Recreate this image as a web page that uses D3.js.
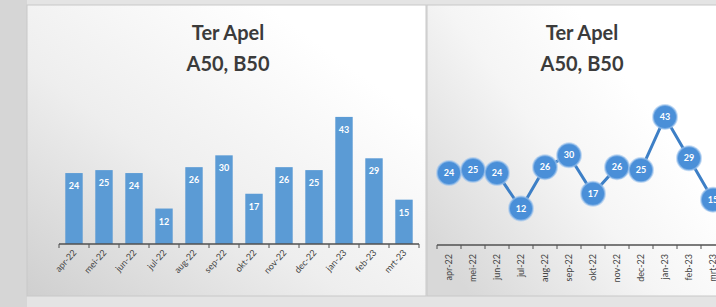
<!DOCTYPE html>
<html lang="nl">
<head>
    <meta charset="UTF-8">
    <title>Ter Apel A50, B50</title>
    <script src="https://d3js.org/d3.v7.min.js"></script>
    <style>
        body { margin: 0; background: #e3e3e3; }
        svg { display: block; font-family: Lato, "Open Sans", sans-serif; }
    </style>
    <script>
        const months = ["apr-22", "mei-22", "jun-22", "jul-22", "aug-22", "sep-22",
                        "okt-22", "nov-22", "dec-22", "jan-23", "feb-23", "mrt-23"];
        const barValues = [24, 25, 24, 12, 26, 30, 17, 26, 25, 43, 29, 15];
        const lineValues = [24, 25, 24, 12, 26, 30, 17, 26, 25, 43, 29, 15];
        const titleLines = ["Ter Apel", "A50, B50"];

        document.addEventListener("DOMContentLoaded", () => makeGraph());

        function makeGraph() {
            const width = 716, height = 307;
            const baseline = 244;

            let svg = d3.select("svg").attr("width", width).attr("height", height);

            let defs = svg.append("defs");
            let g1 = defs.append("linearGradient").attr("id", "bgLeft")
                .attr("x1", "0").attr("y1", "1").attr("x2", "0.8").attr("y2", "0.2");
            g1.append("stop").attr("offset", "0").attr("stop-color", "#cfcfcf");
            g1.append("stop").attr("offset", "0.5").attr("stop-color", "#eeeeee");
            g1.append("stop").attr("offset", "1").attr("stop-color", "#ffffff");

            let g2 = defs.append("linearGradient").attr("id", "bgRight")
                .attr("x1", "0").attr("y1", "0.8").attr("x2", "0.7").attr("y2", "0.3");
            g2.append("stop").attr("offset", "0").attr("stop-color", "#d8d8d8");
            g2.append("stop").attr("offset", "0.6").attr("stop-color", "#f5f5f5");
            g2.append("stop").attr("offset", "1").attr("stop-color", "#ffffff");

            // outer background
            svg.append("rect").attr("width", width).attr("height", height).attr("fill", "#e4e4e4");
            svg.append("rect").attr("x", 0).attr("y", 0).attr("width", 27).attr("height", height).attr("fill", "#d6d6d6");

            // panels
            svg.append("rect").attr("x", 27).attr("y", 5).attr("width", 399).attr("height", 291)
                .attr("fill", "url(#bgLeft)").attr("stroke", "#c8c8c8").attr("stroke-width", 1);
            svg.append("rect").attr("x", 427).attr("y", 5).attr("width", 300).attr("height", 291)
                .attr("fill", "url(#bgRight)").attr("stroke", "#c8c8c8").attr("stroke-width", 1);

            // titles
            [228, 582].forEach(cx => {
                svg.append("g").selectAll("text")
                    .data(titleLines)
                    .enter()
                    .append("text")
                    .attr("x", cx)
                    .attr("y", (d, i) => 40 + i * 31)
                    .attr("text-anchor", "middle")
                    .attr("font-size", "20px")
                    .attr("font-weight", "bold")
                    .attr("fill", "#3b3b3b")
                    .text(d => d);
            });

            const yScale = d3.scaleLinear().domain([0, 45]).range([baseline, 111]);

            // ---- left: bar chart ----
            let xBar = d3.scaleBand().domain(months).range([59, 419]).paddingInner(0.42).paddingOuter(0.21);
            let gapBar = xBar.step() - xBar.bandwidth();

            let left = svg.append("g");

            left.selectAll(".bar")
                .data(barValues)
                .enter()
                .append("rect")
                .attr("x", (d, i) => xBar(months[i]))
                .attr("y", d => yScale(d))
                .attr("width", xBar.bandwidth())
                .attr("height", d => baseline - yScale(d))
                .attr("fill", "#5b9bd5");

            left.selectAll(".barlabel")
                .data(barValues)
                .enter()
                .append("text")
                .attr("x", (d, i) => xBar(months[i]) + xBar.bandwidth() / 2)
                .attr("y", d => yScale(d) + 16)
                .attr("text-anchor", "middle")
                .attr("font-size", "9px")
                .attr("font-weight", "bold")
                .attr("fill", "#ffffff")
                .text(d => d);

            left.append("line")
                .attr("x1", xBar.range()[0]).attr("x2", xBar.range()[1])
                .attr("y1", baseline).attr("y2", baseline)
                .attr("stroke", "#505050").attr("stroke-width", 1.3);

            left.selectAll(".tick")
                .data(months.concat(["end"]))
                .enter()
                .append("line")
                .attr("x1", (d, i) => i < months.length ? xBar(d) - gapBar / 2 : xBar(months[11]) + xBar.bandwidth() + gapBar / 2)
                .attr("x2", (d, i) => i < months.length ? xBar(d) - gapBar / 2 : xBar(months[11]) + xBar.bandwidth() + gapBar / 2)
                .attr("y1", baseline).attr("y2", baseline + 4)
                .attr("stroke", "#505050");

            left.selectAll(".xlabel")
                .data(months)
                .enter()
                .append("text")
                .attr("transform", d => `translate(${xBar(d) + xBar.bandwidth() / 2 + 3}, ${baseline + 9}) rotate(-48)`)
                .attr("text-anchor", "end")
                .attr("font-size", "9px")
                .attr("fill", "#444444")
                .text(d => d);

            // ---- right: line chart ----
            let xLine = d3.scaleBand().domain(months).range([437, 437 + 24 * 12]);

            let right = svg.append("g");

            right.append("line")
                .attr("x1", 437).attr("x2", 716)
                .attr("y1", baseline + 1).attr("y2", baseline + 1)
                .attr("stroke", "#505050").attr("stroke-width", 1.3);

            right.selectAll(".tick")
                .data(months)
                .enter()
                .append("line")
                .attr("x1", d => xLine(d)).attr("x2", d => xLine(d))
                .attr("y1", baseline + 1).attr("y2", baseline + 5)
                .attr("stroke", "#505050");

            right.selectAll(".xlabel")
                .data(months)
                .enter()
                .append("text")
                .attr("transform", d => `translate(${xLine(d) + xLine.bandwidth() / 2 + 3}, ${baseline + 10}) rotate(-90)`)
                .attr("text-anchor", "end")
                .attr("font-size", "9px")
                .attr("fill", "#444444")
                .text(d => d);

            let line = d3.line()
                .x((d, i) => xLine(months[i]) + xLine.bandwidth() / 2)
                .y(d => yScale(d));

            right.append("path")
                .datum(lineValues)
                .attr("d", line)
                .attr("fill", "none")
                .attr("stroke", "#3d7fc6")
                .attr("stroke-width", 3);

            right.selectAll(".dot")
                .data(lineValues)
                .enter()
                .append("circle")
                .attr("cx", (d, i) => xLine(months[i]) + xLine.bandwidth() / 2)
                .attr("cy", d => yScale(d))
                .attr("r", 12)
                .attr("fill", "#4a8fd8")
                .attr("stroke", "#9cc3ec")
                .attr("stroke-opacity", 0.6)
                .attr("stroke-width", 2);

            right.selectAll(".dotlabel")
                .data(lineValues)
                .enter()
                .append("text")
                .attr("x", (d, i) => xLine(months[i]) + xLine.bandwidth() / 2)
                .attr("y", d => yScale(d) + 3)
                .attr("text-anchor", "middle")
                .attr("font-size", "9px")
                .attr("font-weight", "bold")
                .attr("fill", "#ffffff")
                .text(d => d);
        }
    </script>
</head>
<body>
    <svg></svg>
</body>
</html>
